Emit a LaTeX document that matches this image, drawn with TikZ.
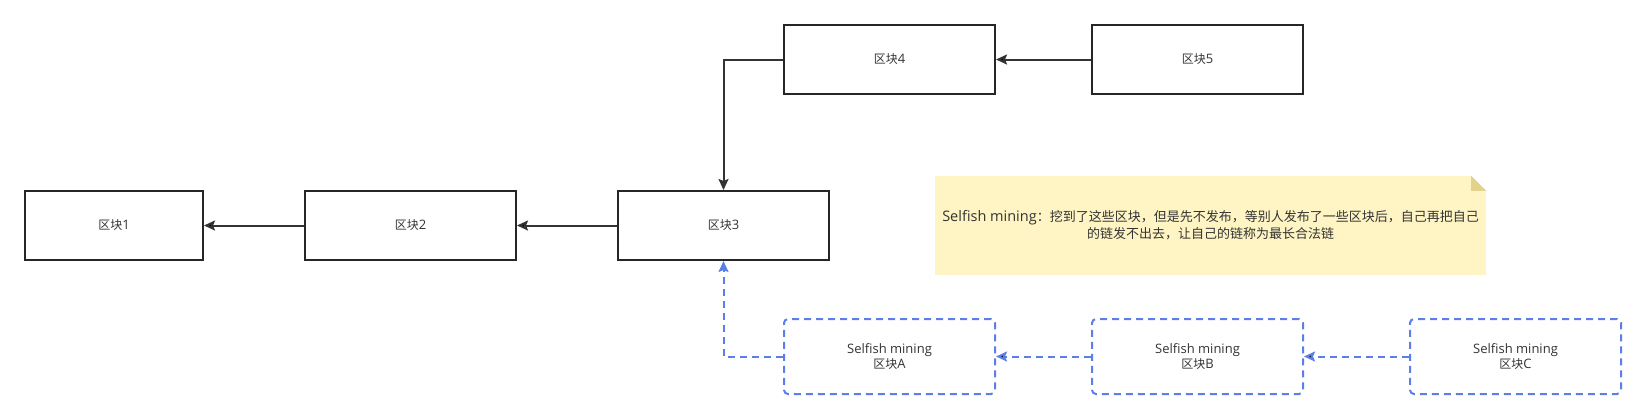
\documentclass[tikz,border=0pt]{standalone}
\usepackage{fontspec}
\setmainfont{Open Sans}
\newfontfamily\cjk{Noto Sans CJK SC}
\usetikzlibrary{arrows.meta}
\definecolor{selfblue}{RGB}{92,126,232}
\definecolor{notefill}{RGB}{255,244,195}
\definecolor{notefold}{RGB}{226,210,142}
\definecolor{boxtext}{RGB}{51,51,51}
\newcommand{\qk}{{\cjk\fontsize{12}{15}\selectfont 区块}}
\newcommand{\notecjk}{\cjk\fontsize{13}{16}\selectfont}
\begin{document}
\begin{tikzpicture}[x=1pt,y=-1pt,
		every node/.style={font=\fontsize{13}{15}\selectfont,text=boxtext},
		block/.style={draw=black!85,line width=2pt,minimum width=211pt,minimum height=69pt},
		selfish/.style={draw=selfblue,line width=2pt,dash pattern=on 7pt off 5pt,rounded corners=4pt,minimum width=211pt,minimum height=75pt,align=center},
		link/.style={draw=black!80,line width=2pt,-{Stealth[length=11pt,width=10pt,inset=2pt]}},
		selflink/.style={draw=selfblue,line width=2pt,dash pattern=on 7pt off 5pt,-{Stealth[length=11pt,width=10pt,inset=2pt]}}]
			\useasboundingbox (0,0) rectangle (1646,418);
			\node[block,minimum width=178pt] (b1) at (114,225.5) {\qk 1};
			\node[block] (b2) at (410.5,225.5) {\qk 2};
			\node[block] (b3) at (723.5,225.5) {\qk 3};
			\node[block] (b4) at (889.5,59.5) {\qk 4};
			\node[block] (b5) at (1197.5,59.5) {\qk 5};
			\node[selfish] (sa) at (889.5,356.5) {Selfish mining\\\qk A};
			\node[selfish] (sb) at (1197.5,356.5) {Selfish mining\\\qk B};
			\node[selfish] (sc) at (1515.5,356.5) {Selfish mining\\\qk C};
			\node[fill=notefill,minimum width=551pt,minimum height=99pt,align=center,inner sep=0pt,font=\fontsize{14.5}{17}\selectfont] (note) at (1210.5,225.5)
				{Selfish mining{\notecjk ：挖到了这些区块，但是先不发布，等别人发布了一些区块后，自己再把自己}\\{\notecjk 的链发不出去，让自己的链称为最长合法链}};
			\fill[white] ([xshift=-15pt]note.north east) -- (note.north east) -- ([yshift=-15pt]note.north east) -- cycle;
			\fill[notefold] ([xshift=-15pt]note.north east) -- ([xshift=-15pt,yshift=-15pt]note.north east) -- ([yshift=-15pt]note.north east) -- cycle;
			\path[link]
			(b2) edge (b1)
			(b3) edge (b2)
			(b5) edge (b4);
			\draw[link] (b4) -| (b3);
			\path[selflink]
			(sb) edge (sa)
			(sc) edge (sb);
			\draw[selflink] (sa) -| (b3);
		\end{tikzpicture}
\end{document}
